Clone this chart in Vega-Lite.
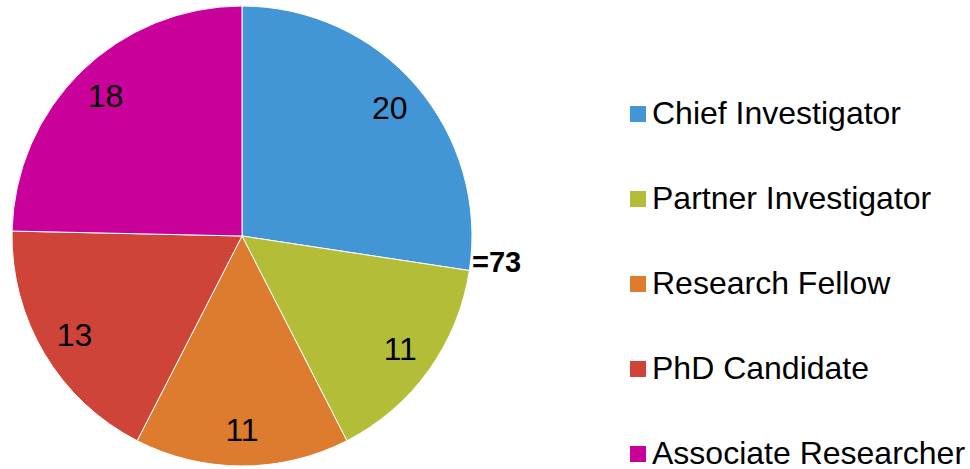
{
  "$schema": "https://vega.github.io/schema/vega-lite/v6.json",
  "width": 484,
  "height": 472,
  "padding": 0,
  "autosize": {"type": "pad"},
  "background": "white",
  "view": {"stroke": null},
  "title": {"text": "=73", "font": "Liberation Sans", "fontSize": 29, "fontWeight": "bold", "color": "black", "anchor": "start", "frame": "group", "orient": "top", "offset": 0, "baseline": "middle", "dx": 472, "dy": 292},
  "data": {"values": [
    {"role": "Chief Investigator", "count": 20, "order": 1},
    {"role": "Partner Investigator", "count": 11, "order": 2},
    {"role": "Research Fellow", "count": 11, "order": 3},
    {"role": "PhD Candidate", "count": 13, "order": 4},
    {"role": "Associate Researcher", "count": 18, "order": 5}
  ]},
  "encoding": {
    "theta": {"field": "count", "type": "quantitative", "stack": true},
    "order": {"field": "order", "type": "quantitative"}
  },
  "layer": [
    {
      "mark": {"type": "arc", "outerRadius": 230, "stroke": "white", "strokeWidth": 1},
      "encoding": {
        "color": {
          "field": "role", "type": "nominal",
          "sort": ["Chief Investigator", "Partner Investigator", "Research Fellow", "PhD Candidate", "Associate Researcher"],
          "scale": {"domain": ["Chief Investigator", "Partner Investigator", "Research Fellow", "PhD Candidate", "Associate Researcher"],
                    "range": ["#4396D5", "#B3BD38", "#DD7B2E", "#CF4438", "#C9009A"]},
          "legend": {"title": null, "orient": "none", "legendX": 622, "legendY": 98, "symbolType": "square", "symbolSize": 256, "symbolStrokeWidth": 0, "labelFont": "Liberation Sans", "labelFontSize": 32, "labelColor": "black", "labelOffset": -2, "rowPadding": 53, "labelLimit": 400, "padding": 0}
        }
      }
    },
    {
      "mark": {"type": "text", "radius": 195, "font": "Liberation Sans", "fontSize": 32, "color": "black"},
      "encoding": {"text": {"field": "count", "type": "quantitative"}}
    }
  ]
}
